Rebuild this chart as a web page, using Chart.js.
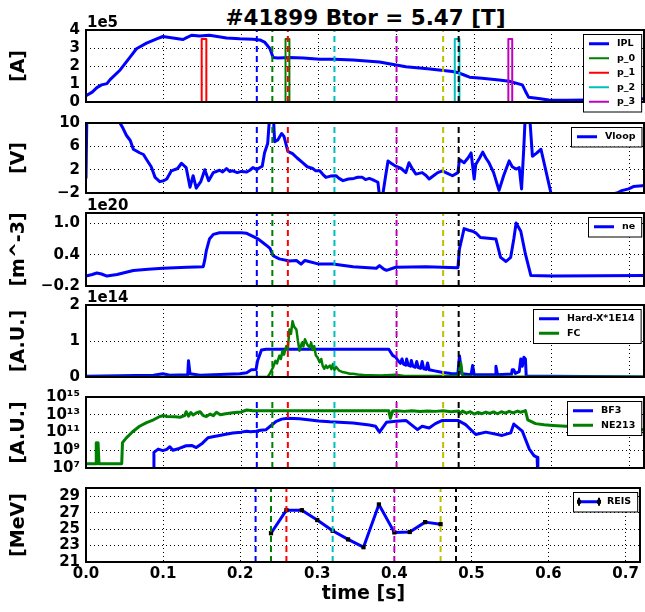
<!DOCTYPE html>
<html>
<head>
<meta charset="utf-8">
<script src="https://cdn.jsdelivr.net/npm/chart.js@4.4.1/dist/chart.umd.min.js"></script>
<style>
  body { margin: 0; background: #fff; width: 645px; height: 612px; position: relative; overflow: hidden; }
  canvas { position: absolute; left: 0; }
  #title { position: absolute; left: 86px; width: 559px; top: 7px; text-align: center;
           font: bold 21.5px 'DejaVu Sans'; line-height: 1; color: #000; }
</style>
</head>
<body>
<div id="title">#41899 Btor = 5.47 [T]</div>
<canvas id="c0"></canvas>
<canvas id="c1"></canvas>
<canvas id="c2"></canvas>
<canvas id="c3"></canvas>
<canvas id="c4"></canvas>
<canvas id="c5"></canvas>
<script>
// ---- data ----
const xTicks = [0, 0.1, 0.2, 0.3, 0.4, 0.5, 0.6, 0.7];
const markT = [0.22, 0.24, 0.26, 0.32, 0.40, 0.46, 0.48];

// plasma current [1e5 A]
const ipl = [[0,0.35],[0.008,0.55],[0.014,0.8],[0.02,0.95],[0.027,1.02],[0.031,1.24],[0.044,1.78],[0.057,2.51],[0.065,2.96],[0.078,3.27],[0.091,3.51],[0.099,3.64],[0.112,3.56],[0.125,3.47],[0.129,3.56],[0.136,3.71],[0.146,3.67],[0.159,3.71],[0.181,3.56],[0.198,3.51],[0.215,3.49],[0.224,3.45],[0.23,3.33],[0.237,2.96],[0.241,2.47],[0.247,2.45],[0.262,2.47],[0.28,2.44],[0.301,2.38],[0.32,2.37],[0.344,2.33],[0.378,2.22],[0.412,1.96],[0.44,1.85],[0.472,1.69],[0.48,1.62],[0.487,1.5],[0.494,1.38],[0.51,1.32],[0.532,1.22],[0.545,1.15],[0.562,0.95],[0.566,0.6],[0.57,0.27],[0.583,0.2],[0.596,0.11],[0.62,0.1],[0.644,0.11],[0.68,0.12],[0.72,0.18]];
// pulses p_0..p_3
const pulseNames = ['p_0', 'p_1', 'p_2', 'p_3'];
const pulseStart = [0.257, 0.149, 0.475, 0.544];
const pulseEnd = [0.262, 0.155, 0.481, 0.549];
const pulseAmp = 3.5;

// loop voltage [V]
const vloop = [[0,0.5],[0.002,20],[0.042,20],[0.043,10.2],[0.048,9],[0.052,7.9],[0.057,7.0],[0.061,5.5],[0.069,4.9],[0.074,4.6],[0.078,3.75],[0.084,2.5],[0.089,0.68],[0.095,-0.05],[0.1,0.1],[0.104,0.4],[0.11,1.8],[0.118,2.2],[0.123,3.1],[0.129,2.36],[0.134,-1.0],[0.138,0.96],[0.142,-1.16],[0.148,0.0],[0.153,2.0],[0.158,0.12],[0.164,1.5],[0.172,1.9],[0.176,1.6],[0.181,2.2],[0.185,1.7],[0.189,1.8],[0.195,1.5],[0.2,1.7],[0.207,1.6],[0.211,1.9],[0.215,2.36],[0.22,2.0],[0.224,2.36],[0.227,2.6],[0.23,4.9],[0.234,6.5],[0.237,12],[0.241,12],[0.243,6.8],[0.247,7.1],[0.252,8.2],[0.255,7.7],[0.26,5.15],[0.266,4.76],[0.272,4.0],[0.279,3.2],[0.285,2.5],[0.292,2.2],[0.296,1.8],[0.301,1.8],[0.305,1.2],[0.309,0.68],[0.315,0.9],[0.322,0.96],[0.326,0.5],[0.331,0.12],[0.338,0.4],[0.345,0.5],[0.35,0.7],[0.356,0.68],[0.36,0.3],[0.365,0.5],[0.369,0.3],[0.376,-0.16],[0.378,-2.5],[0.382,-2.5],[0.386,1.0],[0.389,3.5],[0.394,3.0],[0.399,2.6],[0.406,2.2],[0.412,1.5],[0.416,3.2],[0.421,2.0],[0.425,1.24],[0.433,1.5],[0.438,1.0],[0.442,0.4],[0.448,1.0],[0.453,1.5],[0.459,1.8],[0.465,1.4],[0.472,0.96],[0.479,1.5],[0.481,3.75],[0.487,3.2],[0.492,4.0],[0.496,4.87],[0.5,0.4],[0.502,2.9],[0.507,4.0],[0.511,5.0],[0.515,4.0],[0.519,3.2],[0.525,1.5],[0.532,-1.55],[0.538,1.0],[0.545,3.5],[0.549,2.5],[0.554,2.1],[0.558,2.36],[0.561,-1.3],[0.564,6],[0.566,12],[0.571,12],[0.575,4.3],[0.58,4.8],[0.586,5.5],[0.592,2.0],[0.599,-2.1],[0.61,-4],[0.684,-2.0],[0.69,-1.6],[0.699,-1.3],[0.705,-0.9],[0.72,-0.7]];

// line density [1e20 m^-3]
const ne = [[0,-0.01],[0.008,0.02],[0.014,0.05],[0.02,0.03],[0.027,-0.01],[0.04,0.02],[0.061,0.097],[0.08,0.12],[0.099,0.14],[0.13,0.16],[0.151,0.17],[0.153,0.3],[0.155,0.48],[0.159,0.7],[0.164,0.79],[0.172,0.82],[0.2,0.82],[0.207,0.81],[0.215,0.75],[0.222,0.7],[0.228,0.63],[0.234,0.56],[0.237,0.52],[0.241,0.38],[0.249,0.32],[0.262,0.28],[0.271,0.29],[0.277,0.22],[0.282,0.29],[0.3,0.22],[0.318,0.22],[0.344,0.17],[0.374,0.14],[0.378,0.19],[0.383,0.13],[0.387,0.1],[0.399,0.16],[0.438,0.17],[0.479,0.15],[0.481,0.51],[0.487,0.9],[0.493,0.87],[0.498,0.85],[0.502,0.82],[0.508,0.73],[0.528,0.7],[0.534,0.35],[0.541,0.27],[0.547,0.35],[0.551,0.7],[0.554,1.01],[0.56,0.85],[0.566,0.41],[0.573,0.0],[0.601,-0.01],[0.72,0.0]];

// hard X-ray and FC [1e14 A.U.]
const hardX = [[0,0.02],[0.087,0.05],[0.099,0.09],[0.108,0.05],[0.131,0.06],[0.132,0.45],[0.134,0.09],[0.147,0.05],[0.198,0.09],[0.207,0.12],[0.213,0.2],[0.219,0.21],[0.221,0.45],[0.226,0.75],[0.232,0.77],[0.39,0.77],[0.395,0.6],[0.399,0.55],[0.402,0.45],[0.405,0.38],[0.407,0.5],[0.409,0.36],[0.412,0.33],[0.413,0.5],[0.415,0.33],[0.418,0.3],[0.419,0.46],[0.421,0.3],[0.424,0.27],[0.426,0.43],[0.428,0.26],[0.431,0.24],[0.433,0.43],[0.435,0.23],[0.438,0.21],[0.44,0.39],[0.442,0.2],[0.449,0.17],[0.458,0.13],[0.47,0.1],[0.479,0.09],[0.481,0.59],[0.484,0.09],[0.496,0.06],[0.498,0.32],[0.5,0.06],[0.527,0.06],[0.528,0.3],[0.53,0.06],[0.548,0.08],[0.549,0.2],[0.551,0.2],[0.553,0.1],[0.558,0.15],[0.56,0.5],[0.562,0.3],[0.564,0.55],[0.566,0.5],[0.567,0.03],[0.6,0.02],[0.72,0.0]];
const fc = [[0,0],[0.234,0],[0.237,0.1],[0.241,0.27],[0.244,0.45],[0.246,0.38],[0.249,0.59],[0.251,0.5],[0.253,0.72],[0.255,0.62],[0.258,0.86],[0.26,0.78],[0.262,1.32],[0.264,1.2],[0.266,1.55],[0.268,1.4],[0.271,1.32],[0.273,1.0],[0.275,0.73],[0.278,0.95],[0.28,0.85],[0.282,1.05],[0.285,0.9],[0.288,0.82],[0.29,0.95],[0.292,0.75],[0.294,0.86],[0.296,0.6],[0.298,0.55],[0.301,0.41],[0.303,0.5],[0.305,0.3],[0.307,0.23],[0.309,0.32],[0.311,0.25],[0.314,0.32],[0.316,0.22],[0.318,0.36],[0.32,0.2],[0.322,0.28],[0.326,0.18],[0.33,0.14],[0.335,0.12],[0.34,0.09],[0.344,0.09],[0.35,0.07],[0.36,0.05],[0.366,0.05],[0.38,0.04],[0.399,0.06],[0.41,0.03],[0.429,0.03],[0.479,0.03],[0.481,0.2],[0.483,0.39],[0.485,0.03],[0.5,0.01],[0.72,0.01]];

// neutron detectors [A.U.], log scale
const bf3 = [[0.087,1e6],[0.0875,5.8e8],[0.093,1.35e9],[0.099,9e8],[0.104,1.25e9],[0.108,2.5e9],[0.112,1e9],[0.12,1.6e9],[0.129,3.2e9],[0.136,3.5e9],[0.142,2e9],[0.15,6.3e9],[0.157,2.5e10],[0.165,3.5e10],[0.172,4.7e10],[0.18,6.3e10],[0.189,9e10],[0.2,1.1e11],[0.207,1.4e11],[0.212,1.25e11],[0.219,1.4e11],[0.225,1.8e11],[0.232,2.1e11],[0.24,8e11],[0.245,1.8e12],[0.252,3.2e12],[0.26,4.1e12],[0.275,3.5e12],[0.3,2e12],[0.314,1.6e12],[0.344,1.15e12],[0.365,7e11],[0.373,5e11],[0.378,1.1e11],[0.387,1.4e12],[0.399,1.8e12],[0.412,2.3e12],[0.427,2.1e11],[0.433,5e11],[0.442,3.2e11],[0.45,1e12],[0.459,2.3e12],[0.479,2.3e12],[0.489,7.6e11],[0.502,6e10],[0.515,1.1e11],[0.536,4.7e10],[0.547,9e10],[0.551,9e11],[0.562,1.4e11],[0.571,1.35e9],[0.577,2.5e8],[0.581,1.6e8],[0.582,1e6]];
const ne213 = [[0,3e7],[0.013,3e7],[0.0132,7.2e9],[0.0145,3e7],[0.0155,7.2e9],[0.0168,3e7],[0.046,3e7],[0.047,7.2e9],[0.052,2.5e10],[0.06,1.2e11],[0.069,5e11],[0.078,1.3e12],[0.087,2.7e12],[0.095,6.3e12],[0.1,8e12],[0.104,6.3e12],[0.115,6e12],[0.121,5.2e12],[0.127,8e12],[0.129,2.2e13],[0.132,7e12],[0.135,1.8e13],[0.138,9.5e12],[0.142,1.6e13],[0.147,2.2e13],[0.151,8e12],[0.155,6.3e12],[0.16,1.2e13],[0.164,8e12],[0.168,1.9e13],[0.173,1e13],[0.18,1.3e13],[0.189,1.7e13],[0.2,2.1e13],[0.207,3.4e13],[0.215,2.9e13],[0.3,2.9e13],[0.39,2.9e13],[0.392,4e12],[0.395,2.6e13],[0.4,2.8e13],[0.41,2.4e13],[0.42,2.9e13],[0.43,2.3e13],[0.44,2.7e13],[0.45,2.4e13],[0.46,2.8e13],[0.47,2.2e13],[0.48,2.7e13],[0.481,1.2e13],[0.485,2.6e13],[0.49,1.5e13],[0.495,2.2e13],[0.5,1.2e13],[0.505,1.8e13],[0.51,1.3e13],[0.515,2e13],[0.52,1.4e13],[0.525,2.1e13],[0.53,1.3e13],[0.535,2.2e13],[0.54,1.5e13],[0.545,2.4e13],[0.55,1.6e13],[0.556,2.6e13],[0.56,1.9e13],[0.566,2.9e13],[0.569,2.7e12],[0.575,1.5e12],[0.579,1e12],[0.59,7.5e11],[0.601,6.3e11],[0.63,4.5e11],[0.66,3.2e11],[0.69,2.5e11],[0.72,2e11]];

// REIS energy [MeV]
const reisT = [0.24, 0.26, 0.28, 0.30, 0.32, 0.34, 0.36, 0.38, 0.40, 0.42, 0.44, 0.46];
const reisE = [24.5, 27.3, 27.3, 26.1, 24.8, 23.75, 22.8, 28.0, 24.6, 24.65, 25.85, 25.6];

// ---- looks ----
const C = { b: '#0000ff', g: '#008000', r: '#ff0000', c: '#00bfbf', m: '#bf00bf', y: '#bfbf00', k: '#000000' };
const markColors = [C.b, C.g, C.r, C.c, C.m, C.y, C.k];
const pulseColors = [C.g, C.r, C.c, C.m];
const PANEL_TOP = [30, 123, 213, 305, 397, 488];
const PANEL_BOTTOM = [103, 194, 287, 378, 469, 562];
const FONT = "'DejaVu Sans'";

Chart.defaults.font.family = FONT;
Chart.defaults.font.weight = 'bold';
Chart.defaults.color = '#000';

const pts = arr => arr.map(p => ({ x: p[0], y: p[1] }));

function line(data, color, width, order) {
    return { data, borderColor: color, borderWidth: width, pointRadius: 0, tension: 0,
             fill: false, borderJoinStyle: 'round', order };
}

function markSets(lo, hi) {
    return markT.map((t, i) => ({
        data: [{ x: t, y: lo }, { x: t, y: hi }],
        borderColor: markColors[i], borderWidth: 2, borderDash: [6, 4],
        pointRadius: 0, order: 0
    }));
}

// frame round the axes
const framePlugin = {
    id: 'frame',
    afterDatasetsDraw(chart) {
        const { ctx, chartArea: a } = chart;
        ctx.save();
        ctx.strokeStyle = '#000';
        ctx.lineWidth = 2;
        ctx.strokeRect(a.left, a.top, a.right - a.left - 1, a.bottom - a.top);
        ctx.restore();
    }
};

function offsetPlugin(text) {
    return {
        id: 'offsetText',
        afterDraw(chart) {
            if (!text) return;
            const { ctx, chartArea: a } = chart;
            ctx.save();
            ctx.font = 'bold 15px ' + FONT;
            ctx.fillStyle = '#000';
            ctx.textBaseline = 'alphabetic';
            ctx.fillText(text, a.left + 1, a.top - 3);
            ctx.restore();
        }
    };
}

function legendPlugin(items) {
    return {
        id: 'boxLegend',
        afterDraw(chart) {
            const { ctx, chartArea: a } = chart;
            ctx.save();
            ctx.font = 'bold 9.5px ' + FONT;
            const tw = Math.max(...items.map(it => ctx.measureText(it.label).width));
            const rowH = 14.5;
            const w = 40 + tw, h = 5 + rowH * items.length;
            const x0 = Math.round(a.right - 4 - w), y0 = a.top + 4;
            ctx.fillStyle = '#fff';
            ctx.fillRect(x0, y0, w, h);
            ctx.strokeStyle = '#000';
            ctx.lineWidth = 1;
            ctx.strokeRect(x0 + 0.5, y0 + 0.5, w, h);
            items.forEach((it, i) => {
                const cy = y0 + 2.5 + rowH * (i + 0.5);
                const lx0 = x0 + 6, lx1 = x0 + 26;
                ctx.strokeStyle = it.color;
                ctx.lineWidth = it.width;
                ctx.beginPath();
                ctx.moveTo(lx0, cy);
                ctx.lineTo(lx1, cy);
                ctx.stroke();
                if (it.errorbar) {
                    ctx.strokeStyle = '#000';
                    ctx.lineWidth = 2;
                    ctx.beginPath();
                    ctx.moveTo(lx0, cy - 4); ctx.lineTo(lx0, cy + 4);
                    ctx.moveTo(lx1, cy - 4); ctx.lineTo(lx1, cy + 4);
                    ctx.stroke();
                    ctx.fillStyle = '#000';
                    ctx.fillRect(lx0 - 2, cy - 2, 4, 4);
                    ctx.fillRect(lx1 - 2, cy - 2, 4, 4);
                }
                ctx.fillStyle = '#000';
                ctx.textBaseline = 'middle';
                ctx.fillText(it.label, x0 + 34, cy);
            });
            ctx.restore();
        }
    };
}

function panel(idx, cfg) {
    const top = PANEL_TOP[idx], bottom = PANEL_BOTTOM[idx];
    const last = idx === 5;
    const padTop = 24;
    const padBottom = last ? 612 - bottom : 14;
    const cv = document.getElementById('c' + idx);
    cv.width = 645;
    cv.height = bottom - top + padTop + padBottom;
    cv.style.top = (top - padTop) + 'px';

    new Chart(cv, {
        type: 'line',
        data: { datasets: markSets(cfg.min, cfg.max).concat(cfg.datasets) },
        options: {
            responsive: false,
            animation: false,
            devicePixelRatio: 1,
            layout: { padding: { top: padTop, left: 0, right: 0, bottom: 0 } },
            plugins: { legend: { display: false }, tooltip: { enabled: false } },
            scales: {
                x: {
                    type: 'linear', min: 0, max: 0.72,
                    afterBuildTicks: s => { s.ticks = xTicks.map(v => ({ value: v })); },
                    afterFit: s => { s.height = padBottom; },
                    ticks: { display: last, padding: 3, color: '#000', maxRotation: 0, autoSkip: false,
                             font: { size: 15, weight: 'bold' }, callback: v => v.toFixed(1) },
                    grid: { color: '#000', lineWidth: 1, drawTicks: false },
                    border: { display: false, dash: [1, 3] },
                    title: { display: last, text: 'time [s]', color: '#000',
                             font: { size: 19, weight: 'bold' }, padding: { top: 0, bottom: 6.5 } }
                },
                y: {
                    type: cfg.log ? 'logarithmic' : 'linear', min: cfg.min, max: cfg.max,
                    afterBuildTicks: s => { s.ticks = cfg.ticks.map(v => ({ value: v })); },
                    afterFit: s => { s.width = 86; },
                    ticks: { padding: 6, color: '#000', autoSkip: false, font: { size: 15, weight: 'bold' },
                             callback: (v, i) => cfg.tickLabels[i] },
                    grid: { color: '#000', lineWidth: 1, drawTicks: false },
                    border: { display: false, dash: [1, 3] },
                    title: { display: true, text: cfg.ylabel, color: '#000',
                             font: { size: 19, weight: 'bold' }, padding: { top: 8, bottom: 0 } }
                }
            }
        },
        plugins: [framePlugin, offsetPlugin(cfg.offset), legendPlugin(cfg.legend)]
    });
}

// 1. plasma current + pulses
const pulseSets = pulseStart.map((s, i) => line(
    pts([[0, 0], [s, 0], [s, pulseAmp], [pulseEnd[i], pulseAmp], [pulseEnd[i], 0], [0.72, 0]]),
    pulseColors[i], 2, 4 - i));
panel(0, {
    min: 0, max: 4, ticks: [0, 1, 2, 3, 4], tickLabels: ['0', '1', '2', '3', '4'],
    ylabel: '[A]', offset: '1e5',
    datasets: [line(pts(ipl), C.b, 3, 5)].concat(pulseSets),
    legend: [{ label: 'IPL', color: C.b, width: 3 }].concat(
        pulseNames.map((n, i) => ({ label: n, color: pulseColors[i], width: 2 })))
});

// 2. loop voltage
panel(1, {
    min: -2, max: 10, ticks: [-2, 2, 6, 10], tickLabels: ['\u22122', '2', '6', '10'],
    ylabel: '[V]',
    datasets: [line(pts(vloop), C.b, 3, 1)],
    legend: [{ label: 'Vloop', color: C.b, width: 3 }]
});

// 3. density
panel(2, {
    min: -0.2, max: 1.2, ticks: [-0.2, 0.4, 1.0], tickLabels: ['\u22120.2', '0.4', '1.0'],
    ylabel: '[m^-3]', offset: '1e20',
    datasets: [line(pts(ne), C.b, 3, 1)],
    legend: [{ label: 'ne', color: C.b, width: 3 }]
});

// 4. hard X-ray and FC
panel(3, {
    min: 0, max: 2, ticks: [0, 1, 2], tickLabels: ['0', '1', '2'],
    ylabel: '[A.U.]', offset: '1e14',
    datasets: [line(pts(hardX), C.b, 3, 2), line(pts(fc), C.g, 2.5, 1)],
    legend: [{ label: 'Hard-X*1E14', color: C.b, width: 3 }, { label: 'FC', color: C.g, width: 3 }]
});

// 5. neutrons
panel(4, {
    log: true, min: 1e7, max: 1e15, ticks: [1e7, 1e9, 1e11, 1e13, 1e15],
    tickLabels: ['10\u2077', '10\u2079', '10\u00b9\u00b9', '10\u00b9\u00b3', '10\u00b9\u2075'],
    ylabel: '[A.U.]',
    datasets: [line(pts(bf3), C.b, 3, 2), line(pts(ne213), C.g, 3, 1)],
    legend: [{ label: 'BF3', color: C.b, width: 3 }, { label: 'NE213', color: C.g, width: 3 }]
});

// 6. REIS
const reisSet = line(reisT.map((t, i) => ({ x: t, y: reisE[i] })), C.b, 3, 1);
reisSet.pointRadius = 3;
reisSet.pointStyle = 'rect';
reisSet.pointBackgroundColor = '#000';
reisSet.pointBorderColor = '#000';
reisSet.pointBorderWidth = 0;
panel(5, {
    min: 21, max: 30, ticks: [21, 23, 25, 27, 29], tickLabels: ['21', '23', '25', '27', '29'],
    ylabel: '[MeV]',
    datasets: [reisSet],
    legend: [{ label: 'REIS', color: C.b, width: 3, errorbar: true }]
});
</script>
</body>
</html>
